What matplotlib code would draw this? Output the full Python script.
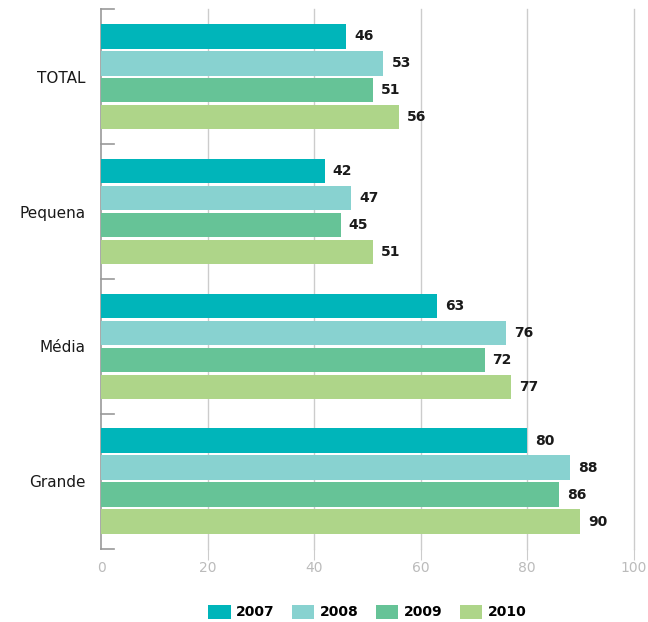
import matplotlib
matplotlib.use("Agg")
import matplotlib.pyplot as plt
from matplotlib.patches import Patch
import numpy as np

categories = ["TOTAL", "Pequena", "Média", "Grande"]
years = ["2007", "2008", "2009", "2010"]
values = {
    "2007": [46, 42, 63, 80],
    "2008": [53, 47, 76, 88],
    "2009": [51, 45, 72, 86],
    "2010": [56, 51, 77, 90],
}
colors = ["#00B5BA", "#88D2D0", "#66C397", "#AED589"]
xticks = [0, 20, 40, 60, 80, 100]

fig = plt.figure(figsize=(6.48, 6.22), dpi=100)
ax = fig.add_axes([0.156, 0.1174, 0.822, 0.8681])

centers = np.arange(len(categories))
step = 0.2
height = 0.185
for i, yr in enumerate(years):
    offs = (i - 1.5) * step
    ys = centers + offs
    ax.barh(ys, values[yr], height=height, color=colors[i], zorder=3)
    for y, v in zip(ys, values[yr]):
        ax.text(v + 1.5, y, str(v), va="center", ha="left",
                fontsize=10, fontweight="bold", color="#1a1a1a")

ax.set_xlim(0, 100)
ax.set_ylim(len(categories) - 0.5, -0.5)

# vertical gridlines
for x in xticks[1:]:
    ax.axvline(x, color="#cccccc", lw=1, zorder=0, clip_on=False)

ax.set_xticks(xticks)
ax.set_xticklabels([str(x) for x in xticks], color="#bbbbbb", fontsize=10)
ax.tick_params(axis="x", length=8, color="#cccccc", pad=1)
ax.xaxis.get_major_ticks()[0].tick1line.set_visible(False)

# category labels with group separators
ax.set_yticks(centers)
ax.set_yticklabels(categories, fontsize=11, color="#1a1a1a")
ax.tick_params(axis="y", length=0, pad=11)
for b in np.arange(-0.5, len(categories), 1.0):
    ax.plot([0, 2.4], [b, b], color="#999999", lw=1.2, clip_on=False, zorder=4)

for s in ["top", "right", "bottom"]:
    ax.spines[s].set_visible(False)
ax.spines["left"].set_color("#999999")
ax.spines["left"].set_linewidth(1.2)

handles = [Patch(facecolor=c, edgecolor="none") for c in colors]
fig.legend(handles, years, loc="center", ncol=4, frameon=False,
           bbox_to_anchor=(0.567, 0.016), handlelength=1.6, handleheight=1.2,
           columnspacing=1.25, handletextpad=0.4,
           prop={"weight": "bold", "size": 10})

fig.savefig("out.png", dpi=100)
